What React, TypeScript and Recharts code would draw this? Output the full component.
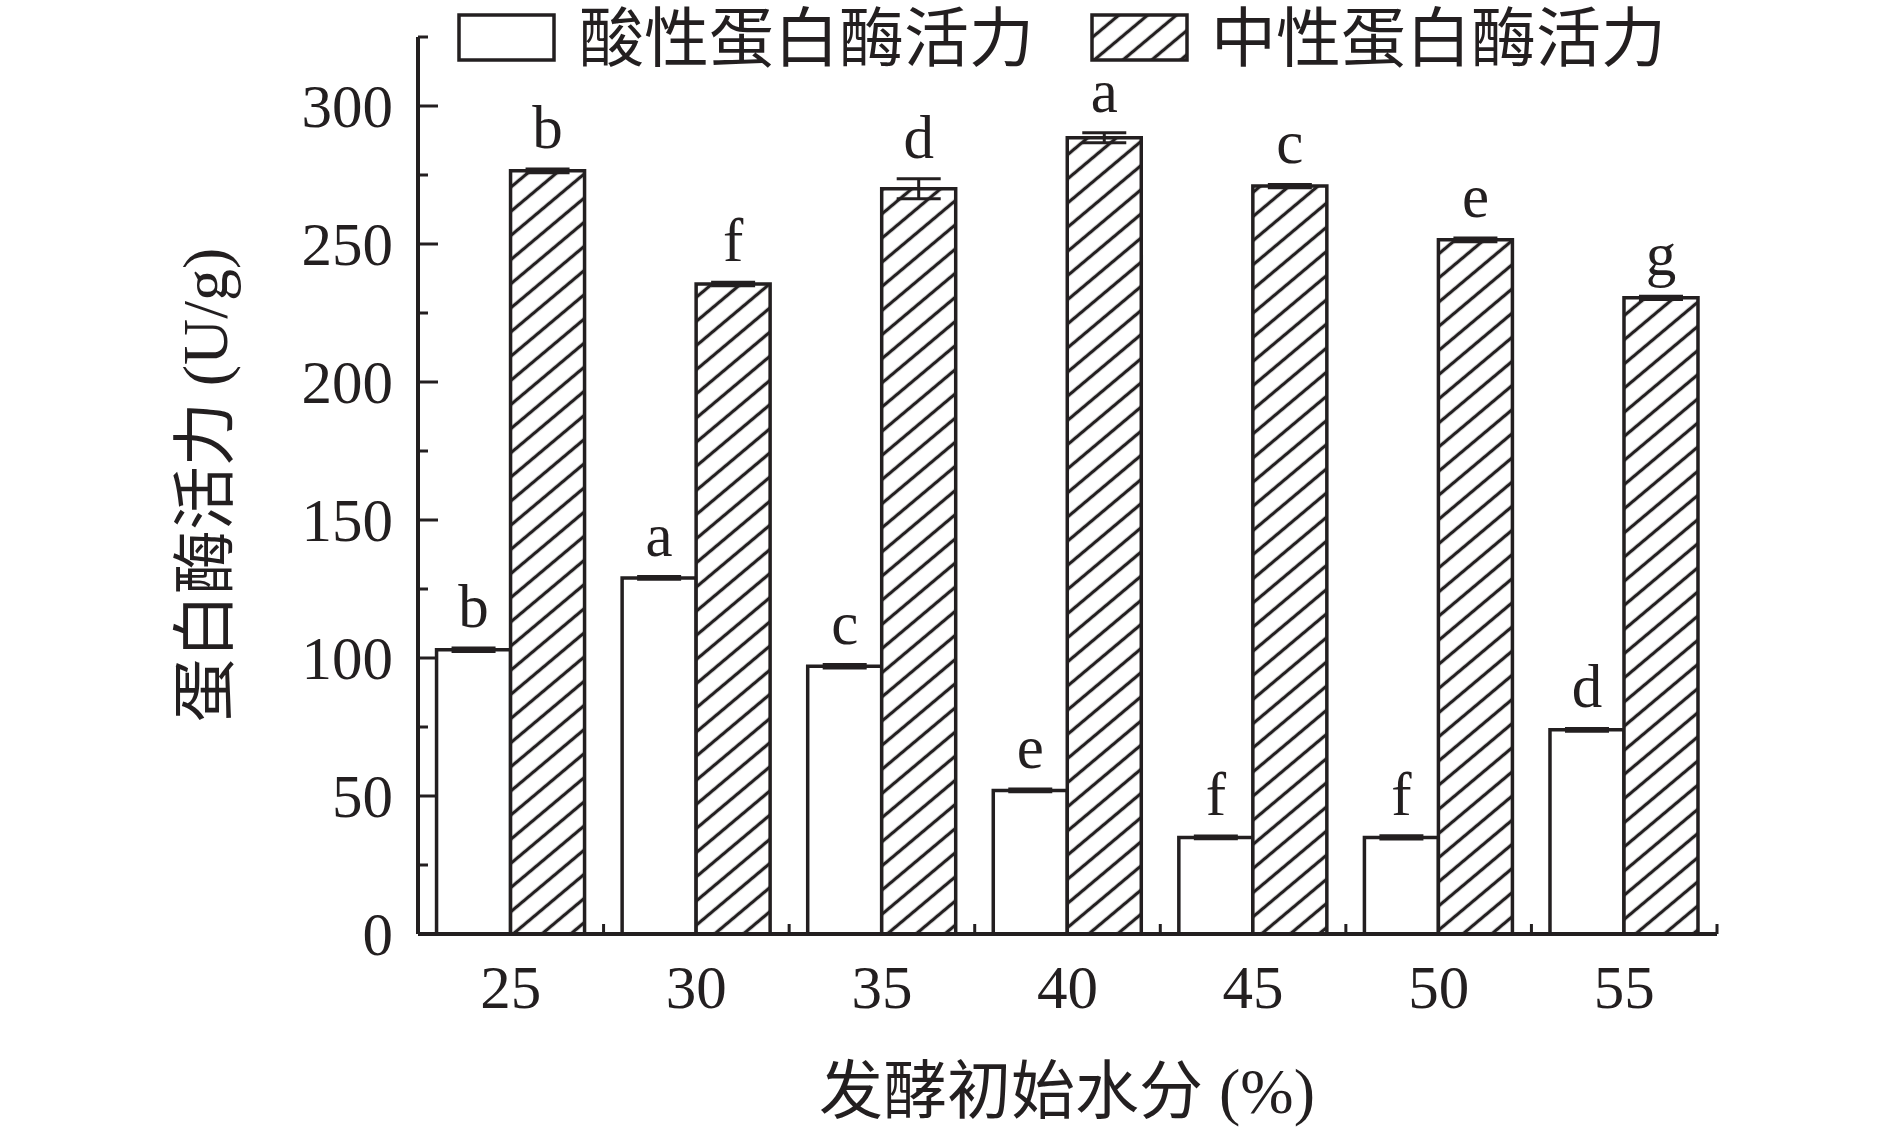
import React from 'react';
import { BarChart, Bar, XAxis, YAxis, ErrorBar, LabelList, Customized } from 'recharts';

const categories = ['25', '30', '35', '40', '45', '50', '55'];
const acidValues = [103, 129, 97, 52, 35, 35, 74];
const acidErrors = [0.6, 0.5, 0.6, 0.5, 0.5, 0.6, 0.5];
const acidLetters = ['b', 'a', 'c', 'e', 'f', 'f', 'd'];
const neutralValues = [276.5, 235.5, 270, 288.5, 271, 251.5, 230.5];
const neutralErrors = [0.7, 0.6, 3.6, 1.8, 0.6, 0.7, 0.6];
const neutralLetters = ['b', 'f', 'd', 'a', 'c', 'e', 'g'];
const yTicks = [0, 25, 50, 75, 100, 125, 150, 175, 200, 225, 250, 275, 300, 325];

const seriesNames = ['酸性蛋白酶活力', '中性蛋白酶活力'];
const xTitle = '发酵初始水分 (%)';
const yTitle = '蛋白酶活力 (U/g)';

const W = 1890;
const H = 1130;
const PLOT_LEFT = 418;
const PLOT_RIGHT = 1717;
const PLOT_TOP = 37;
const PLOT_BOTTOM = 934;
const Y_MAX = 325;
const BAND = (PLOT_RIGHT - PLOT_LEFT) / categories.length;
const PX_PER_UNIT = (PLOT_BOTTOM - PLOT_TOP) / Y_MAX;

const INK = '#231f20';
const FONT = "'Liberation Serif', 'Times New Roman', 'Noto Sans CJK SC', serif";

const chartData = categories.map((name, i) => ({
  name,
  acid: acidValues[i],
  acidErr: acidErrors[i],
  neutral: neutralValues[i],
  neutralErr: neutralErrors[i],
}));

const YTick = (props: any) => {
  const { y, payload } = props;
  const v = payload.value;
  const major = v % 50 === 0;
  return (
    <g>
      <line x1={PLOT_LEFT} x2={PLOT_LEFT + (major ? 20 : 10)} y1={y} y2={y} stroke={INK} strokeWidth={3} />
      {major && (
        <text x={PLOT_LEFT - 25} y={y} dy="0.35em" textAnchor="end" fontSize={61} fontFamily={FONT} fill={INK}>
          {v}
        </text>
      )}
    </g>
  );
};

const XTick = (props: any) => {
  const { x, payload, index } = props;
  const left = x - BAND / 2;
  const right = x + BAND / 2;
  return (
    <g>
      {index > 0 && <line x1={left} x2={left} y1={PLOT_BOTTOM} y2={PLOT_BOTTOM - 10} stroke={INK} strokeWidth={3} />}
      {index === categories.length - 1 && (
        <line x1={right} x2={right} y1={PLOT_BOTTOM} y2={PLOT_BOTTOM - 10} stroke={INK} strokeWidth={3} />
      )}
      <text x={x} y={PLOT_BOTTOM + 74} textAnchor="middle" fontSize={61} fontFamily={FONT} fill={INK}>
        {payload.value}
      </text>
    </g>
  );
};

const makeLetter = (letters: string[], errors: number[]) => (props: any) => {
  const { x, y, width, index } = props;
  const errPx = errors[index] * PX_PER_UNIT;
  return (
    <text x={Number(x) + Number(width) / 2} y={Number(y) - errPx - 21} textAnchor="middle" fontSize={61} fontFamily={FONT} fill={INK}>
      {letters[index]}
    </text>
  );
};

// legend and axis titles
const Decorations = () => (
  <g>
    <rect x={459} y={15} width={95} height={45} fill="#fff" stroke={INK} strokeWidth={3.5} />
    <text x={579} y={38} dy="0.36em" fontSize={65} fontFamily={FONT} fill={INK}>{seriesNames[0]}</text>
    <rect x={1092} y={15} width={95} height={45} fill="url(#hatch)" stroke={INK} strokeWidth={3.5} />
    <text x={1211} y={38} dy="0.36em" fontSize={65} fontFamily={FONT} fill={INK}>{seriesNames[1]}</text>
    <text x={1067} y={1090} dy="0.36em" textAnchor="middle" fontSize={64} fontFamily={FONT} fill={INK}>{xTitle}</text>
    <text
      x={204}
      y={485}
      dy="0.36em"
      textAnchor="middle"
      fontSize={64}
      fontFamily={FONT}
      fill={INK}
      transform="rotate(-90 204 485)"
    >
      {yTitle}
    </text>
  </g>
);

export default function App() {
  return (
    <div style={{ position: 'absolute', left: 0, top: 0, width: W, height: H, background: '#fff' }}>
      <BarChart
        width={W}
        height={H}
        data={chartData}
        margin={{ top: PLOT_TOP, right: W - PLOT_RIGHT, left: PLOT_LEFT - 100, bottom: H - PLOT_BOTTOM - 60 }}
        barCategoryGap="10%"
        barGap={0}
      >
        <defs>
          <pattern id="hatch" patternUnits="userSpaceOnUse" width={18.5} height={10} patternTransform="rotate(50)">
            <rect x={0} y={0} width={18.5} height={10} fill="#fff" />
            <line x1={9.25} y1={-1} x2={9.25} y2={11} stroke={INK} strokeWidth={3.3} />
          </pattern>
        </defs>
        <XAxis
          dataKey="name"
          height={60}
          tickLine={false}
          tickSize={0}
          axisLine={{ stroke: INK, strokeWidth: 4 }}
          tick={<XTick />}
          interval={0}
        />
        <YAxis
          width={100}
          domain={[0, Y_MAX]}
          ticks={yTicks}
          interval={0}
          allowDataOverflow
          tickLine={false}
          tickSize={0}
          axisLine={{ stroke: INK, strokeWidth: 4 }}
          tick={<YTick />}
        />
        <Bar dataKey="acid" fill="#fff" stroke={INK} strokeWidth={3.5} isAnimationActive={false}>
          <ErrorBar dataKey="acidErr" width={22} stroke={INK} strokeWidth={3} direction="y" isAnimationActive={false} />
          <LabelList dataKey="acid" content={makeLetter(acidLetters, acidErrors)} />
        </Bar>
        <Bar dataKey="neutral" fill="url(#hatch)" stroke={INK} strokeWidth={3.5} isAnimationActive={false}>
          <ErrorBar dataKey="neutralErr" width={22} stroke={INK} strokeWidth={3} direction="y" isAnimationActive={false} />
          <LabelList dataKey="neutral" content={makeLetter(neutralLetters, neutralErrors)} />
        </Bar>
        <Customized component={Decorations} />
      </BarChart>
    </div>
  );
}
